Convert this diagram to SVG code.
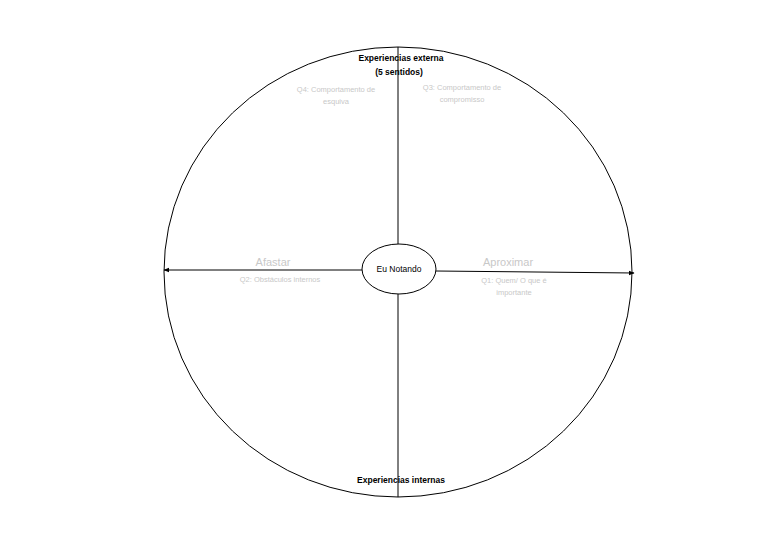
<svg xmlns="http://www.w3.org/2000/svg" width="768" height="544" viewBox="0 0 768 544">
<style>
.ln{stroke:#000;stroke-width:1;fill:none}
.t{font-family:"Liberation Sans",Arial,sans-serif;text-anchor:middle}
.b{font-size:8.5px;font-weight:bold;fill:#000}
.g{font-size:7.5px;fill:#c8c8c8}
.gl{font-size:11px;fill:#c8c8c8}
</style>
<defs>
<marker id="ah" viewBox="0 0 10 10" refX="9" refY="5" markerWidth="6" markerHeight="6" orient="auto" markerUnits="userSpaceOnUse">
<path d="M0,1 L10,5 L0,9 Z" fill="#000"/>
</marker>
</defs>
<rect width="768" height="544" fill="#fff"/>
<g id="circle">
<ellipse class="ln" cx="398" cy="272" rx="234" ry="225"/>
</g>
<g id="connectors">
<line class="ln" x1="398" y1="47" x2="398" y2="244"/>
<line class="ln" x1="398" y1="294" x2="398" y2="497"/>
<line class="ln" x1="362" y1="270" x2="164" y2="270" marker-end="url(#ah)"/>
<line class="ln" x1="436" y1="271" x2="634" y2="273" marker-end="url(#ah)"/>
</g>
<g id="center">
<ellipse cx="399" cy="269" rx="37" ry="25" fill="#fff" stroke="#000" stroke-width="1"/>
<text class="t" x="399" y="272" font-size="8.5">Eu Notando</text>
</g>
<g id="top">
<text class="t b" x="401" y="61">Experiencias externa</text>
<text class="t b" x="399" y="75">(5 sentidos)</text>
</g>
<g id="q4">
<text class="t g" x="336" y="92">Q4: Comportamento de</text>
<text class="t g" x="336" y="104">esquiva</text>
</g>
<g id="q3">
<text class="t g" x="462" y="90">Q3: Comportamento de</text>
<text class="t g" x="462" y="102">compromisso</text>
</g>
<g id="left">
<text class="t gl" x="273" y="266">Afastar</text>
<text class="t g" x="280" y="282">Q2: Obstáculos internos</text>
</g>
<g id="right">
<text class="t gl" x="508" y="266">Aproximar</text>
<text class="t g" x="514" y="283">Q1: Quem/ O que é</text>
<text class="t g" x="514" y="295">importante</text>
</g>
<g id="bottom">
<text class="t b" x="401" y="483">Experiencias internas</text>
</g>
</svg>
